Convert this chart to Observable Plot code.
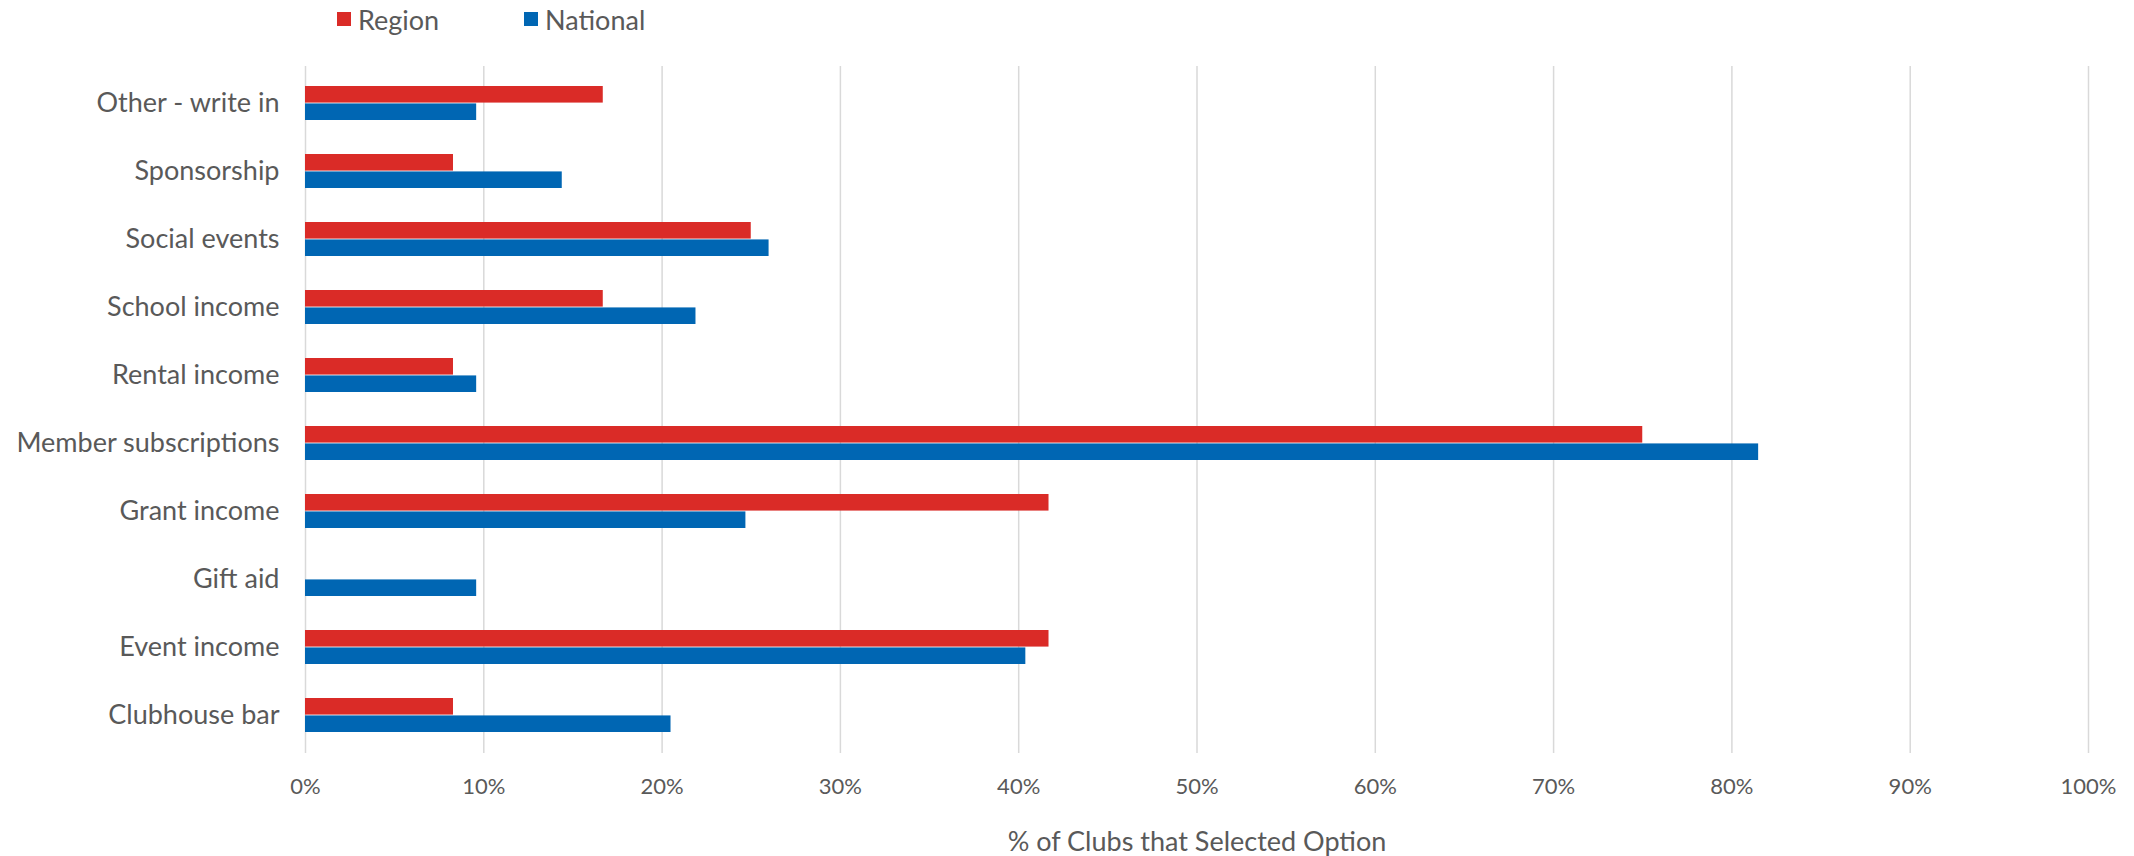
<!DOCTYPE html>
<html><head><meta charset="utf-8">
<script src="https://cdn.jsdelivr.net/npm/d3@7"></script>
<script src="https://cdn.jsdelivr.net/npm/@observablehq/plot@0.6"></script>
<style>
body{margin:0;background:#fff;font-family:Lato,"Noto Sans",sans-serif;color:#595959;}
#legend{position:relative;height:44px;width:2134px;}
.item{position:absolute;top:0;height:38px;display:flex;align-items:center;font-size:27px;color:#595959;}
.sw{width:14px;height:14px;margin-right:7px;}
</style></head><body>
<div id="legend"></div>
<div id="chart"></div>
<script>
const categories = ["Other - write in","Sponsorship","Social events","School income","Rental income","Member subscriptions","Grant income","Gift aid","Event income","Clubhouse bar"];
const regionValues = [16.7, 8.3, 25.0, 16.7, 8.3, 75.0, 41.7, 0, 41.7, 8.3];
const nationalValues = [9.6, 14.4, 26.0, 21.9, 9.6, 81.5, 24.7, 9.6, 40.4, 20.5];
const xTicks = [0,10,20,30,40,50,60,70,80,90,100];
const seriesNames = ["Region","National"];
const seriesColors = ["#DA2B27","#0066B3"];
const axisTitle = "% of Clubs that Selected Option";

// legend
const legend = document.getElementById("legend");
const legendLeft = [337, 524];
seriesNames.forEach((s,i)=>{
  const d = document.createElement("div");
  d.className="item"; d.style.left = legendLeft[i]+"px";
  d.innerHTML = `<span class="sw" style="background:${seriesColors[i]}"></span>${s}`;
  legend.appendChild(d);
});

const data = categories.map((c,i)=>({category:c, region:regionValues[i], national:nationalValues[i]}));

const width = 2134, height = 812;
const marginTop = 22, marginBottom = 103, marginLeft = 305, marginRight = 46;
const pad = 0.493;
const step = (height - marginTop - marginBottom) / categories.length;
const bw = step * (1 - pad);

const chart = Plot.plot({
  width, height, marginTop, marginBottom, marginLeft, marginRight,
  x: {domain:[0,100]},
  y: {domain: categories, paddingInner: pad, paddingOuter: pad/2},
  style: {fontFamily:"Lato, 'Noto Sans', sans-serif", color:"#595959", background:"white"},
  marks: [
    Plot.gridX(xTicks, {stroke:"#D9D9D9", strokeOpacity:1, strokeWidth:1.5}),
    Plot.barX(data.filter(d=>d.region>0), {x:"region", y:"category", fill:seriesColors[0], insetBottom: bw/2}),
    Plot.barX(data, {x:"national", y:"category", fill:seriesColors[1], insetTop: bw/2}),
    Plot.axisY({tickSize:0, tickPadding:26, fontSize:27, label:null, fill:"#595959"}),
    Plot.axisX({ticks:xTicks, tickSize:0, tickPadding:25, fontSize:22, tickFormat:d=>d+"%", label:null, fill:"#595959"}),
    Plot.text([axisTitle], {frameAnchor:"bottom", dy:97, fontSize:27, fill:"#595959"})
  ]
});
document.getElementById("chart").appendChild(chart);
</script>
</body></html>
